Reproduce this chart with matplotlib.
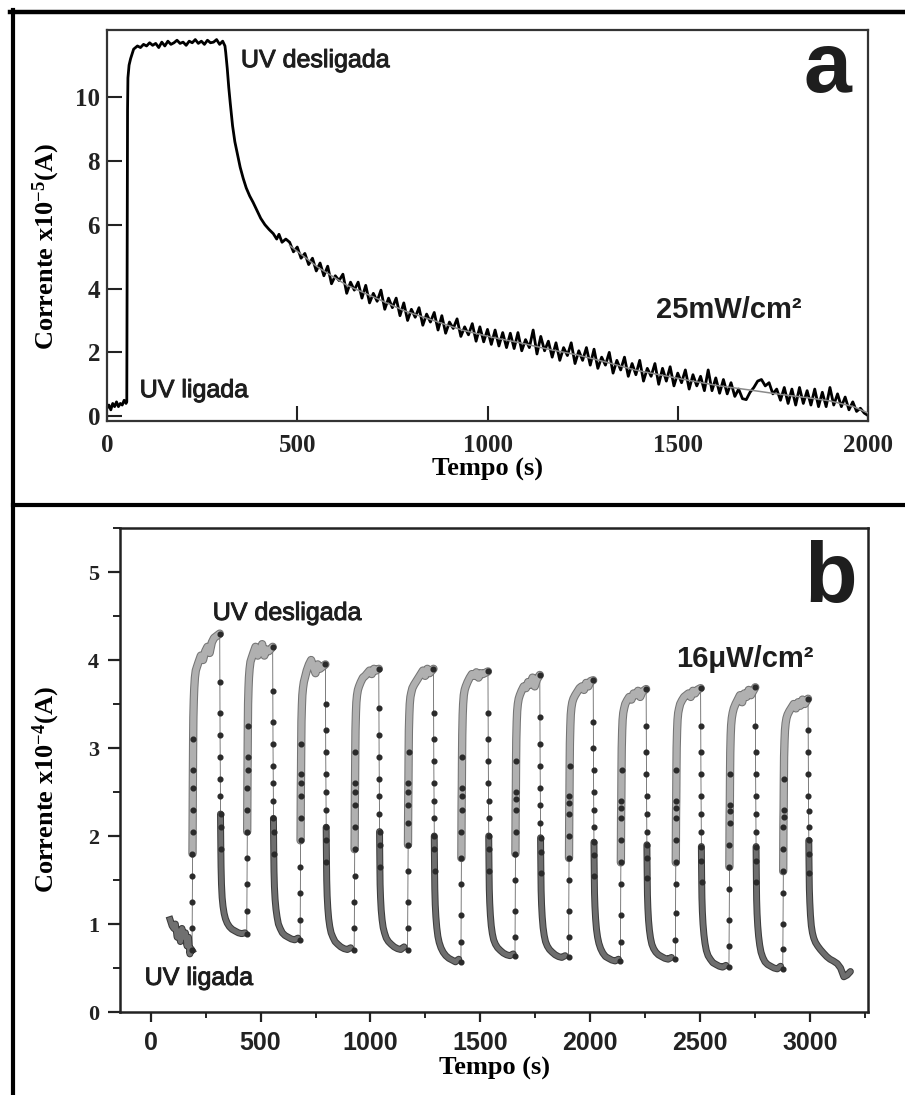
import matplotlib
matplotlib.use("Agg")
import matplotlib.pyplot as plt
import matplotlib.patheffects as pe
from matplotlib.lines import Line2D
from matplotlib.ticker import MultipleLocator

plt.rcParams['font.family'] = 'Liberation Serif'
plt.rcParams['font.weight'] = 'bold'
plt.rcParams['axes.labelweight'] = 'bold'
plt.rcParams['mathtext.default'] = 'regular'

SANS = 'Liberation Sans'

# ---------------- painel a : 25 mW/cm2 ----------------
a_t_start = [0, 5, 10, 15, 20, 25, 30, 35, 40, 45, 50, 52, 54, 55, 58, 62, 66, 70, 75, 80,
             88, 96, 104, 112, 120, 128, 136, 144, 152, 160, 168, 176, 184, 192, 200, 208,
             216, 224, 232, 240, 248, 256, 264, 272, 280, 288, 296, 304, 310]
a_i_start = [0.25, 0.35, 0.2, 0.4, 0.3, 0.45, 0.3, 0.4, 0.35, 0.5, 0.4, 0.45, 9.6, 10.6, 11.0, 11.2, 11.35, 11.5, 11.55, 11.6,
             11.55, 11.65, 11.6, 11.7, 11.62, 11.68, 11.55, 11.72, 11.6, 11.75, 11.65, 11.7, 11.78, 11.68, 11.72, 11.62,
             11.75, 11.7, 11.8, 11.68, 11.75, 11.65, 11.78, 11.7, 11.72, 11.8, 11.65, 11.75, 11.6]
a_t_decay = [312, 316, 320, 324, 330, 336, 343, 350, 358, 366, 375, 384, 394, 404, 415, 426, 437,
             446, 452, 460, 470]
a_i_decay = [11.4, 10.9, 10.3, 9.8, 9.1, 8.6, 8.2, 7.8, 7.45, 7.15, 6.9, 6.7, 6.45, 6.2, 6.0, 5.85, 5.72,
             5.55, 5.7, 5.45, 5.55]
# t = 480 ... 2000 s, a cada 10 s
a_i_noisy = [5.45, 5.15, 5.3, 4.95, 5.1, 4.75, 4.95, 4.55, 4.8, 4.4,
             4.7, 4.15, 4.4, 4.25, 4.45, 3.85, 4.2, 3.95, 4.2, 3.7,
             4.1, 3.55, 3.85, 3.6, 3.95, 3.35, 3.7, 3.4, 3.7, 3.15,
             3.55, 3.0, 3.35, 3.1, 3.4, 2.85, 3.2, 2.95, 3.25, 2.7,
             3.15, 2.6, 2.95, 2.75, 3.05, 2.5, 2.8, 2.55, 2.9, 2.35,
             2.8, 2.33, 2.72, 2.25, 2.7, 2.2, 2.62, 2.15, 2.6, 2.12,
             2.62, 2.05, 2.4, 2.15, 2.7, 1.95, 2.5, 2.05, 2.35, 1.85,
             2.3, 1.75, 2.15, 1.9, 2.3, 1.65, 2.05, 1.75, 2.15, 1.6,
             2.1, 1.5, 1.85, 1.6, 2.0, 1.35, 1.75, 1.45, 1.85, 1.25,
             1.65, 1.3, 1.75, 1.1, 1.5, 1.25, 1.65, 1.0, 1.5, 1.1,
             1.55, 0.95, 1.35, 1.05, 1.45, 0.85, 1.3, 0.95, 1.25, 0.8,
             1.45, 0.8, 1.2, 0.72, 1.15, 0.7, 1.05, 0.62, 0.85, 0.55,
             0.52, 0.75, 0.9, 1.1, 1.15, 0.95, 1.05, 0.7, 0.85, 0.5,
             0.9, 0.4, 0.85, 0.35, 0.9, 0.4, 0.8, 0.35, 0.85, 0.3,
             0.75, 0.3, 0.9, 0.35, 0.7, 0.3, 0.6, 0.2, 0.45, 0.15,
             0.25, 0.1, 0.02]
a_t_noisy = list(range(480, 2001, 10))

a_fit_t = [480, 555, 631, 707, 782, 858, 933, 1009, 1085, 1160, 1236, 1310, 1387, 1460,
           1539, 1610, 1690, 1760, 1841, 1900, 1962, 2000]
a_fit_i = [5.35, 4.66, 4.1, 3.7, 3.3, 3.0, 2.7, 2.48, 2.3, 2.1, 1.92, 1.7, 1.45, 1.28,
           1.1, 0.95, 0.82, 0.7, 0.58, 0.48, 0.3, 0.1]

# ---------------- painel b : 16 uW/cm2 ----------------
b_pre_t = [88, 97, 105, 112, 120, 128, 135, 142, 150, 158, 165, 172, 178, 183, 188]
b_pre_i = [1.05, 0.98, 0.95, 1.0, 0.85, 0.92, 0.8, 0.95, 0.85, 0.9, 0.75, 0.85, 0.66, 0.72, 0.7]

b_on = [188, 437, 680, 926, 1169, 1412, 1658, 1902, 2138, 2388, 2632, 2877]
b_off = [314, 555, 795, 1038, 1287, 1535, 1771, 2014, 2255, 2503, 2752, 2992]
b_peak = [4.3, 4.15, 3.95, 3.9, 3.9, 3.87, 3.83, 3.77, 3.67, 3.68, 3.69, 3.56]

rise_dt = [0, 0.5, 1, 1.5, 2, 2.5, 3, 3.5, 4, 5, 6, 8, 10, 13, 17, 22, 30, 40, 50, 60, 70, 80, 90, 100]
b_rise = [
    [0.70, 0.95, 1.25, 1.55, 1.8, 2.05, 2.3, 2.55, 2.75, 3.1, 3.35, 3.55, 3.68, 3.8, 3.88, 3.92, 3.98, 4.05, 4.0, 4.1, 4.15, 4.08, 4.2, 4.25],
    [0.89, 1.15, 1.45, 1.75, 2.05, 2.3, 2.55, 2.75, 2.9, 3.25, 3.5, 3.68, 3.8, 3.9, 3.98, 4.02, 4.08, 4.15, 4.05, 4.1, 4.18, 4.05, 4.12, 4.1],
    [0.82, 1.05, 1.35, 1.65, 1.95, 2.2, 2.45, 2.6, 2.7, 3.05, 3.3, 3.48, 3.6, 3.68, 3.75, 3.8, 3.88, 3.95, 4.0, 3.92, 3.85, 3.95, 3.9, 3.92],
    [0.71, 0.95, 1.25, 1.55, 1.85, 2.1, 2.35, 2.5, 2.6, 2.95, 3.2, 3.4, 3.52, 3.6, 3.66, 3.7, 3.75, 3.8, 3.82, 3.85, 3.88, 3.84, 3.9, 3.88],
    [0.71, 0.95, 1.25, 1.6, 1.9, 2.15, 2.35, 2.5, 2.6, 2.95, 3.2, 3.38, 3.5, 3.58, 3.63, 3.68, 3.72, 3.76, 3.8, 3.84, 3.88, 3.82, 3.9, 3.85],
    [0.57, 0.8, 1.1, 1.45, 1.75, 2.05, 2.3, 2.45, 2.55, 2.9, 3.15, 3.38, 3.5, 3.6, 3.66, 3.7, 3.75, 3.8, 3.84, 3.82, 3.86, 3.8, 3.85, 3.84],
    [0.64, 0.85, 1.15, 1.5, 1.8, 2.05, 2.3, 2.42, 2.5, 2.85, 3.1, 3.3, 3.42, 3.5, 3.56, 3.6, 3.65, 3.7, 3.68, 3.75, 3.72, 3.8, 3.7, 3.78],
    [0.62, 0.85, 1.15, 1.5, 1.75, 2.0, 2.25, 2.38, 2.45, 2.8, 3.05, 3.25, 3.38, 3.46, 3.52, 3.56, 3.6, 3.64, 3.68, 3.7, 3.66, 3.74, 3.7, 3.76],
    [0.58, 0.8, 1.1, 1.45, 1.7, 1.95, 2.2, 2.32, 2.4, 2.75, 3.0, 3.2, 3.32, 3.4, 3.45, 3.5, 3.54, 3.58, 3.55, 3.62, 3.6, 3.65, 3.58, 3.64],
    [0.60, 0.82, 1.12, 1.45, 1.7, 1.95, 2.2, 2.32, 2.4, 2.75, 3.0, 3.2, 3.32, 3.4, 3.45, 3.5, 3.54, 3.58, 3.6, 3.62, 3.58, 3.65, 3.62, 3.66],
    [0.51, 0.75, 1.05, 1.4, 1.65, 1.9, 2.15, 2.28, 2.35, 2.7, 2.95, 3.15, 3.26, 3.34, 3.4, 3.45, 3.5, 3.55, 3.6, 3.52, 3.62, 3.58, 3.66, 3.6],
    [0.49, 0.72, 1.0, 1.35, 1.6, 1.85, 2.1, 2.22, 2.3, 2.65, 2.9, 3.08, 3.2, 3.28, 3.34, 3.38, 3.42, 3.46, 3.5, 3.45, 3.52, 3.48, 3.55, 3.5],
]

decay_dt = [0.5, 1, 1.5, 2, 2.5, 3, 3.5, 4, 5, 6, 8, 11, 15, 20, 26, 34, 44, 56, 70, 85, 100, 115]
b_decay = [
    [3.75, 3.4, 3.15, 2.9, 2.65, 2.45, 2.25, 2.1, 1.85, 1.65, 1.45, 1.3, 1.2, 1.12, 1.06, 1.01, 0.97, 0.94, 0.92, 0.9, 0.89, 0.9],
    [3.65, 3.3, 3.05, 2.8, 2.6, 2.4, 2.2, 2.05, 1.8, 1.6, 1.42, 1.28, 1.17, 1.08, 1.0, 0.95, 0.9, 0.87, 0.85, 0.83, 0.82, 0.84],
    [3.5, 3.2, 2.95, 2.7, 2.5, 2.3, 2.1, 1.95, 1.7, 1.5, 1.32, 1.18, 1.06, 0.97, 0.9, 0.85, 0.8, 0.77, 0.74, 0.72, 0.71, 0.73],
    [3.45, 3.15, 2.9, 2.65, 2.45, 2.25, 2.05, 1.9, 1.65, 1.45, 1.3, 1.16, 1.05, 0.96, 0.9, 0.84, 0.8, 0.77, 0.74, 0.72, 0.71, 0.74],
    [3.4, 3.1, 2.85, 2.6, 2.4, 2.2, 2.0, 1.85, 1.6, 1.4, 1.22, 1.08, 0.96, 0.86, 0.79, 0.73, 0.68, 0.64, 0.61, 0.59, 0.57, 0.6],
    [3.4, 3.1, 2.85, 2.6, 2.4, 2.2, 2.0, 1.85, 1.6, 1.4, 1.24, 1.1, 0.98, 0.89, 0.82, 0.77, 0.73, 0.7, 0.67, 0.65, 0.64, 0.66],
    [3.35, 3.05, 2.8, 2.55, 2.35, 2.15, 1.98, 1.82, 1.58, 1.38, 1.22, 1.08, 0.96, 0.87, 0.8, 0.75, 0.71, 0.68, 0.65, 0.63, 0.62, 0.64],
    [3.3, 3.0, 2.75, 2.5, 2.3, 2.1, 1.93, 1.78, 1.54, 1.35, 1.2, 1.06, 0.94, 0.85, 0.78, 0.72, 0.67, 0.63, 0.61, 0.59, 0.58, 0.6],
    [3.25, 2.95, 2.7, 2.45, 2.25, 2.05, 1.9, 1.75, 1.52, 1.33, 1.18, 1.04, 0.93, 0.84, 0.77, 0.72, 0.68, 0.65, 0.63, 0.61, 0.6, 0.62],
    [3.25, 2.95, 2.7, 2.45, 2.25, 2.05, 1.88, 1.72, 1.48, 1.3, 1.14, 1.0, 0.88, 0.78, 0.7, 0.64, 0.6, 0.56, 0.54, 0.52, 0.51, 0.53],
    [3.25, 2.95, 2.7, 2.45, 2.25, 2.05, 1.88, 1.72, 1.48, 1.28, 1.12, 0.98, 0.86, 0.76, 0.68, 0.62, 0.57, 0.54, 0.52, 0.5, 0.49, 0.52],
    [3.2, 2.95, 2.7, 2.45, 2.28, 2.1, 1.95, 1.8, 1.58, 1.4, 1.25, 1.1, 0.98, 0.9, 0.84, 0.79, 0.75, 0.71, 0.67, 0.63, 0.6, 0.58],
]
b_tail_t = [3125, 3140, 3155, 3170, 3185]
b_tail_i = [0.55, 0.5, 0.4, 0.42, 0.46]

# ---------------- figura ----------------
W, H = 905, 1095
fig = plt.figure(figsize=(W / 100, H / 100), dpi=100)


def px_axes(l, t, r, b):
    return fig.add_axes([l / W, 1 - b / H, (r - l) / W, (b - t) / H])


def label_text(ax, x, y, s, size, weight='normal'):
    # texto sem serifa um pouco engrossado como no original
    t = ax.text(x, y, s, transform=ax.transAxes, family=SANS, weight=weight,
                fontsize=size, color='#1e1e1e')
    if weight == 'normal':
        t.set_path_effects([pe.Stroke(linewidth=0.7, foreground='#1e1e1e'), pe.Normal()])
    return t


# molduras pretas
fig.add_artist(Line2D([10 / W, 1], [1 - 12 / H] * 2, color='black', lw=3.2, transform=fig.transFigure))
fig.add_artist(Line2D([13 / W] * 2, [0, 1 - 10 / H], color='black', lw=3.0, transform=fig.transFigure))
fig.add_artist(Line2D([13 / W, 1], [1 - 505 / H] * 2, color='black', lw=3.0, transform=fig.transFigure))

# ----- a -----
ax1 = px_axes(107, 30, 868, 421)
t_a = a_t_start + a_t_decay + a_t_noisy
i_a = a_i_start + a_i_decay + a_i_noisy
ax1.plot(t_a, i_a, color='black', lw=2.0)
ax1.plot(a_fit_t, a_fit_i, color='#8a8a8a', lw=1.1, zorder=3)
ax1.set_xlim(0, 2000)
ax1.set_ylim(-0.15, 12.1)
ax1.set_xticks([0, 500, 1000, 1500, 2000])
ax1.set_yticks([0, 2, 4, 6, 8, 10])
ax1.tick_params(direction='in', length=11, width=1.5, labelsize=18, colors='#222')
ax1.tick_params(axis='x', pad=9)
ax1.tick_params(axis='y', pad=5)
for s in ax1.spines.values():
    s.set_linewidth(1.6)
    s.set_color('#333')
ax1.set_xlabel('Tempo (s)', fontsize=19)
ax1.xaxis.set_label_coords(0.5, -0.095)
ax1.set_ylabel('Corrente x10$^{-5}$(A)', fontsize=19)
ax1.yaxis.set_label_coords(-0.059, 0.445)

label_text(ax1, 0.176, 0.905, 'UV desligada', 18)
label_text(ax1, 0.043, 0.061, 'UV ligada', 18)
label_text(ax1, 0.915, 0.841, 'a', 62, 'bold')
label_text(ax1, 0.722, 0.263, '25mW/cm²', 21, 'bold')

# ----- b -----
ax2 = px_axes(120, 528, 868, 1012)

all_t = list(b_pre_t)
all_i = list(b_pre_i)
for k in range(len(b_on)):
    rt = [b_on[k] + d for d in rise_dt]
    dt_ = [b_off[k] + d for d in decay_dt]
    all_t += rt + [b_off[k]] + dt_
    all_i += b_rise[k] + [b_peak[k]] + b_decay[k]
all_t += b_tail_t
all_i += b_tail_i

# linha fina que liga os pontos
ax2.plot(all_t, all_i, color='#666', lw=0.6, zorder=2)

dark = [pe.Stroke(linewidth=5.0, foreground='#3c3c3c'), pe.Normal()]
light = [pe.Stroke(linewidth=6.0, foreground='#747474'), pe.Normal()]
ax2.plot(b_pre_t, b_pre_i, color='#707070', lw=3.5, path_effects=dark, zorder=3)
for k in range(len(b_on)):
    rt = [b_on[k] + d for d in rise_dt]
    dt_ = [b_off[k] + d for d in decay_dt]
    # subida lenta / patamar (UV ligada)
    ax2.plot(rt[4:] + [b_off[k]], b_rise[k][4:] + [b_peak[k]], color='#b0b0b0', lw=4.5,
             path_effects=light, solid_capstyle='round', zorder=3)
    # decaimento (UV desligada)
    dec_t = dt_[6:]
    dec_i = b_decay[k][6:]
    if k == len(b_on) - 1:
        dec_t = dec_t + b_tail_t
        dec_i = dec_i + b_tail_i
    ax2.plot(dec_t, dec_i, color='#6e6e6e', lw=3.5, path_effects=dark,
             solid_capstyle='round', zorder=3)
    # transicoes rapidas: pontos esparsos
    ax2.plot(rt[:10], b_rise[k][:10], 'o', ms=3.4, color='#2a2a2a', zorder=4)
    ax2.plot([b_off[k]] + dt_[:9], [b_peak[k]] + b_decay[k][:9], 'o', ms=3.4,
             color='#2a2a2a', zorder=4)

ax2.set_xlim(-140, 3265)
ax2.set_ylim(0, 5.5)
ax2.xaxis.set_major_locator(MultipleLocator(500))
ax2.xaxis.set_minor_locator(MultipleLocator(250))
ax2.yaxis.set_major_locator(MultipleLocator(1))
ax2.yaxis.set_minor_locator(MultipleLocator(0.5))
ax2.tick_params(which='major', direction='out', width=1.6, colors='#222')
ax2.tick_params(which='minor', direction='out', width=1.4, colors='#222')
ax2.tick_params(axis='y', which='major', length=9, labelsize=16, pad=6)
ax2.tick_params(axis='y', which='minor', length=5)
ax2.tick_params(axis='x', which='major', length=7, labelsize=18, pad=7,
                labelfontfamily=SANS)
ax2.tick_params(axis='x', which='minor', length=4)
for s in ax2.spines.values():
    s.set_linewidth(1.8)
    s.set_color('#222')
ax2.set_xlabel('Tempo (s)', fontsize=19)
ax2.xaxis.set_label_coords(0.5, -0.093)
ax2.set_ylabel('Corrente x10$^{-4}$(A)', fontsize=19)
ax2.yaxis.set_label_coords(-0.077, 0.459)

label_text(ax2, 0.124, 0.81, 'UV desligada', 18)
label_text(ax2, 0.033, 0.056, 'UV ligada', 18)
label_text(ax2, 0.915, 0.847, 'b', 62, 'bold')
label_text(ax2, 0.743, 0.713, '16μW/cm²', 21, 'bold')

fig.savefig('out.png', dpi=100)
